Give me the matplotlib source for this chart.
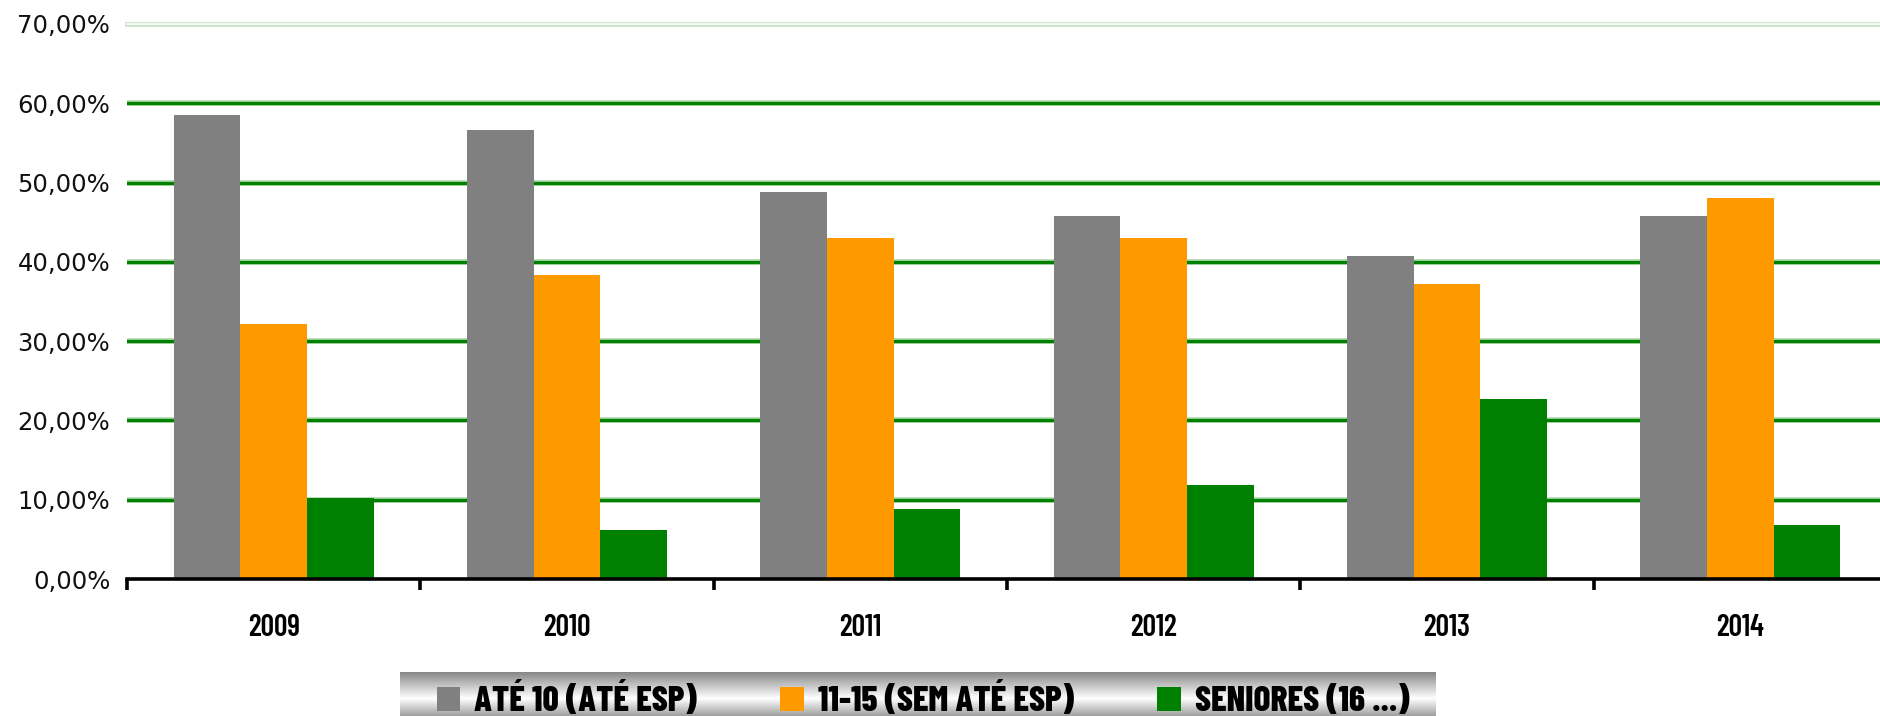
import numpy as np
import matplotlib
matplotlib.use('Agg')
import matplotlib.pyplot as plt
from matplotlib.ticker import FuncFormatter
from matplotlib import font_manager as fm

# dados
anos = ['2009', '2010', '2011', '2012', '2013', '2014']
series = ['ATÉ 10 (ATÉ ESP)', '11-15 (SEM ATÉ ESP)', 'SENIORES (16 ...)']
ate10 = [58.5, 56.6, 48.8, 45.8, 40.7, 45.8]
de11a15 = [32.2, 38.3, 43.0, 43.0, 37.2, 48.0]
seniores = [10.2, 6.2, 8.8, 11.9, 22.7, 6.8]
cores = ['#808080', '#FF9900', '#008000']


def fonte(nomes, size):
    # procura a primeira fonte estreita disponivel
    todas = fm.findSystemFonts()
    for n in nomes:
        for f in todas:
            if f.endswith('/' + n):
                return fm.FontProperties(fname=f, size=size)
    return fm.FontProperties(family='DejaVu Sans', weight='bold', stretch='condensed', size=size * 0.8)


fp_leg = fonte(['BarlowCondensed-ExtraBold.ttf', 'DejaVuSansCondensed-Bold.ttf'], 25.5)
fp_x = fonte(['BarlowCondensed-SemiBold.ttf', 'DejaVuSansCondensed-Bold.ttf'], 21.5)

fig = plt.figure(figsize=(18.81, 7.16), dpi=100)
ax = fig.add_axes([127/1881, 137/716, 1760/1881, 555/716])

x = np.arange(len(anos)) + 0.5
w = 0.227
bars = []
for i, (vals, c) in enumerate(zip([ate10, de11a15, seniores], cores)):
    b = ax.bar(x + (i - 1) * w, vals, width=w, color=c, zorder=3, label=series[i])
    bars.append(b)

ax.set_xlim(0, len(anos))
ax.set_ylim(0, 70)

# grelha verde
for v in range(10, 70, 10):
    ax.axhline(v, color='#b5dcb5', lw=4.2, zorder=1)
    ax.axhline(v, color='#008000', lw=2.4, zorder=1)
ax.axhline(70, color='#c5e3c5', lw=3.4, zorder=1, clip_on=False)
ax.axhline(70, color='white', lw=1.2, zorder=1, clip_on=False)

for s in ['top', 'right', 'left']:
    ax.spines[s].set_visible(False)
ax.spines['bottom'].set_linewidth(2.6)
ax.spines['bottom'].set_zorder(4)

ax.set_yticks(range(0, 71, 10))
ax.yaxis.set_major_formatter(FuncFormatter(lambda v, p: f'{v:.2f}%'.replace('.', ',')))
ax.tick_params(axis='y', length=0, pad=12, labelsize=17.5, labelcolor='#111111')

ax.set_xticks(range(0, len(anos) + 1))
ax.set_xticklabels([])
ax.set_xticks(x, minor=True)
ax.set_xticklabels(anos, minor=True, fontproperties=fp_x)
ax.tick_params(axis='x', which='major', length=8, width=2.6, direction='out')
ax.tick_params(axis='x', which='minor', length=0, pad=25)

# fundo da legenda em degradê
lax = fig.add_axes([400/1881, 0, 1036/1881, 44/716])
t = np.linspace(0, 1, 200)
g = np.interp(t, [0, 0.6, 1], [0.53, 1.0, 0.62])
lax.imshow(g[:, None], aspect='auto', cmap='gray', vmin=0, vmax=1, extent=[0, 1, 0, 1])
lax.set_axis_off()

fig.legend(handles=bars, labels=series, loc='center', bbox_to_anchor=(923/1881, 16/716),
           ncol=3, frameon=False, handlelength=0.66, handleheight=0.64,
           handletextpad=0.4, columnspacing=2.35, prop=fp_leg)

fig.savefig('out.png', dpi=100)
